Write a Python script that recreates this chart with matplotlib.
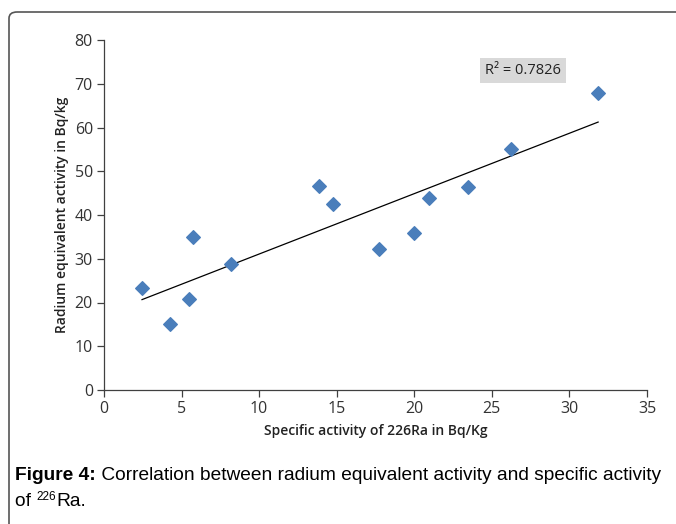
import matplotlib.pyplot as plt
import numpy as np
from matplotlib.patches import FancyBboxPatch

# specific activity of 226Ra (Bq/kg) vs radium equivalent activity (Bq/kg)
ra226 = [2.45, 4.25, 5.5, 5.75, 8.2, 13.85, 14.75, 17.7, 20.0, 20.95, 23.45, 26.25, 31.85]
ra_eq = [23.4, 15.1, 20.9, 35.0, 28.9, 46.7, 42.6, 32.2, 35.8, 43.8, 46.3, 55.2, 67.8]
r2_label = "R² = 0.7826"
xticks = [0, 5, 10, 15, 20, 25, 30, 35]
yticks = [0, 10, 20, 30, 40, 50, 60, 70, 80]

chart_font = "Open Sans"
cap_font = "Liberation Sans"
axis_col = "#404040"
cap_size = 13.8

fig = plt.figure(figsize=(6.76, 5.24), dpi=100)

# frame around the figure (runs off the right and bottom edges)
frame = FancyBboxPatch((9 / 676, -20 / 524), 700 / 676, 532 / 524,
                       boxstyle="round,pad=0,rounding_size=0.012",
                       transform=fig.transFigure, fill=False,
                       edgecolor="#555555", linewidth=1.2, clip_on=False)
fig.patches.append(frame)

ax = fig.add_axes([104 / 676, 1 - 390 / 524, 543 / 676, 350 / 524])

ax.scatter(ra226, ra_eq, marker="D", s=48, color="#4a7ebb", zorder=3)

# linear trendline
k, b = np.polyfit(ra226, ra_eq, 1)
xs = np.array([min(ra226), max(ra226)])
ax.plot(xs, k * xs + b, color="black", linewidth=0.9)

ax.set_xlim(0, 35)
ax.set_ylim(0, 80)
ax.set_xticks(xticks)
ax.set_yticks(yticks)
for s in ["top", "right"]:
    ax.spines[s].set_visible(False)
for s in ["left", "bottom"]:
    ax.spines[s].set_color(axis_col)
    ax.spines[s].set_linewidth(0.9)
ax.tick_params(colors=axis_col, length=5, width=0.9, labelsize=11.5, pad=3)
for lab in ax.get_xticklabels() + ax.get_yticklabels():
    lab.set_fontfamily(chart_font)
    lab.set_color("#333333")

ax.set_xlabel("Specific activity of 226Ra in Bq/Kg", fontfamily=chart_font,
              fontweight="semibold", fontsize=10, color="#222222", labelpad=5)
ax.set_ylabel("Radium equivalent activity in Bq/kg", fontfamily=chart_font,
              fontweight="semibold", fontsize=10, color="#222222", labelpad=4)

ax.text(0.771, 0.912, r2_label, transform=ax.transAxes, ha="center", va="center",
        fontfamily=chart_font, fontsize=10.5, color="#222222",
        bbox=dict(boxstyle="square,pad=0.35", facecolor="#d9d9d9", edgecolor="none"))

# caption
t1 = fig.text(15 / 676, 1 - 475 / 524, "Figure 4:", fontfamily=cap_font,
              fontweight="bold", fontsize=cap_size, va="center", ha="left")
ax.annotate(" Correlation between radium equivalent activity and specific activity",
            xy=(1, 0.5), xycoords=t1, va="center", ha="left",
            fontfamily=cap_font, fontsize=cap_size, annotation_clip=False)
t2 = fig.text(15 / 676, 1 - 501 / 524, "of ", fontfamily=cap_font,
              fontsize=cap_size, va="center", ha="left")
t3 = ax.annotate("226", xy=(1, 0.72), xycoords=t2, va="center", ha="left",
                 fontfamily=cap_font, fontsize=8.5, annotation_clip=False)
ax.annotate("Ra.", xy=(1, 0.5), xycoords=(t3, t2), va="center", ha="left",
            fontfamily=cap_font, fontsize=cap_size, annotation_clip=False)

fig.savefig("out.png", dpi=100)
